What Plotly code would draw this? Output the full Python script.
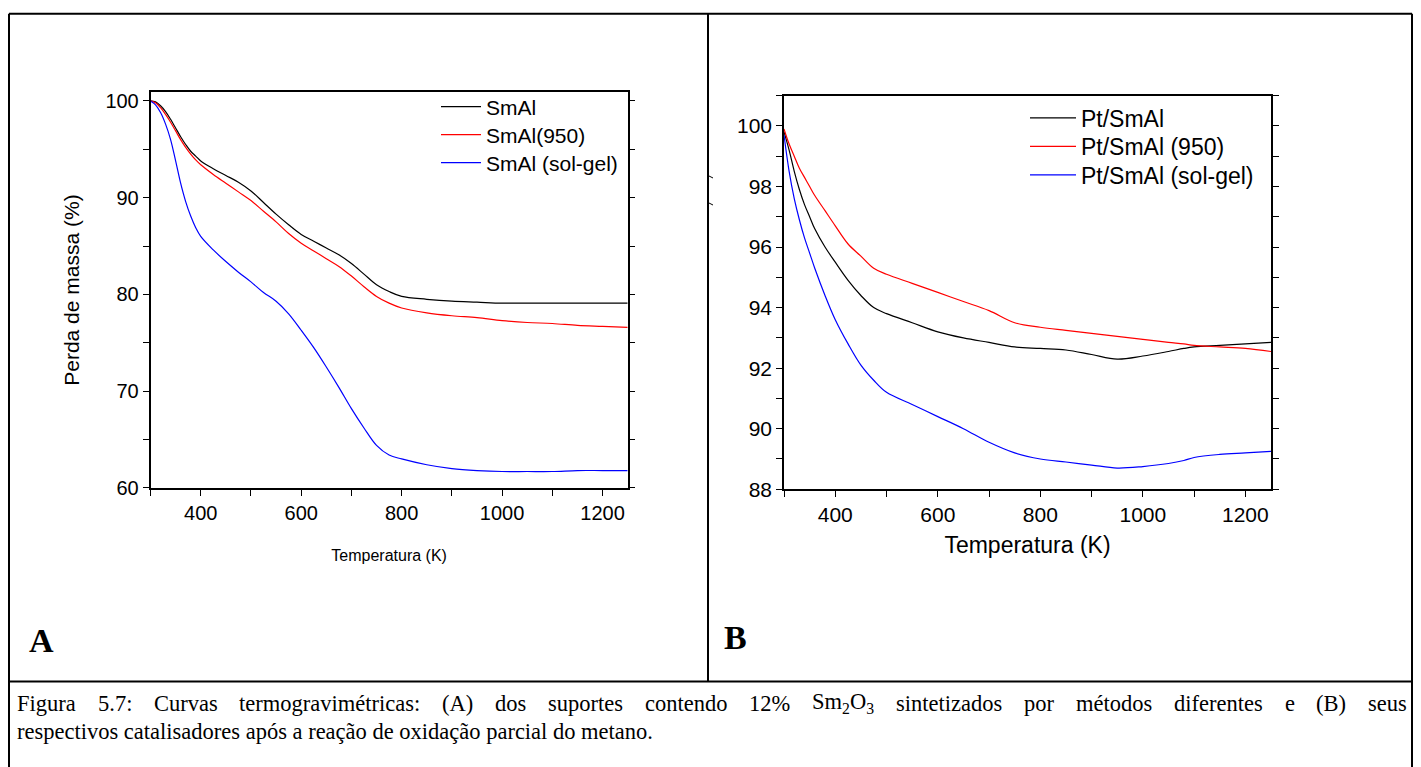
import re
import plotly.graph_objects as go

# the page body has an 8px margin; the figure starts 8px in from the top-left
OFF = 8
W, H = 1421 - 2 * OFF, 767 - OFF
# vertical correction measured from the previous renders (photo comes out slightly squeezed)
V0, VS = 2.3, 0.982

# ---- data ----
temp_a = [300, 310, 320, 330, 340, 350, 360, 370, 380, 390, 400, 425, 450, 475, 500, 525, 550,
          575, 600, 625, 650, 675, 700, 725, 750, 775, 800, 850, 900, 950, 1000, 1050, 1100,
          1150, 1200, 1250]
smal = [100.0, 99.9, 99.5, 98.9, 98.1, 97.2, 96.3, 95.5, 94.8, 94.3, 93.8, 93.0, 92.3, 91.6,
        90.7, 89.5, 88.3, 87.2, 86.2, 85.5, 84.8, 84.1, 83.2, 82.1, 81.0, 80.3, 79.8, 79.5,
        79.3, 79.2, 79.1, 79.1, 79.1, 79.1, 79.1, 79.1]
smal_950 = [100.0, 99.8, 99.3, 98.6, 97.8, 96.9, 96.0, 95.2, 94.5, 93.9, 93.4, 92.4, 91.5,
            90.6, 89.7, 88.6, 87.5, 86.3, 85.3, 84.5, 83.7, 82.9, 81.9, 80.8, 79.8, 79.1,
            78.6, 78.1, 77.8, 77.6, 77.3, 77.1, 77.0, 76.8, 76.7, 76.6]
smal_solgel = [100.0, 99.6, 98.8, 97.6, 96.0, 93.8, 91.5, 89.6, 88.1, 86.9, 86.0, 84.6, 83.4,
               82.3, 81.3, 80.2, 79.3, 78.0, 76.3, 74.5, 72.5, 70.4, 68.2, 66.2, 64.4, 63.4,
               63.0, 62.4, 62.0, 61.8, 61.7, 61.7, 61.7, 61.8, 61.8, 61.8]

temp_b = [300, 310, 320, 330, 340, 350, 360, 380, 400, 425, 450, 475, 500, 550, 600, 650, 700,
          750, 800, 850, 900, 950, 1000, 1050, 1080, 1100, 1150, 1200, 1250]
pt_smal = [99.8, 99.2, 98.5, 97.9, 97.4, 97.0, 96.6, 96.0, 95.5, 94.9, 94.4, 94.0, 93.8, 93.5,
           93.2, 93.0, 92.85, 92.7, 92.65, 92.6, 92.45, 92.3, 92.4, 92.55, 92.65, 92.7, 92.75,
           92.8, 92.85]
pt_smal_950 = [99.9, 99.4, 99.0, 98.6, 98.3, 98.0, 97.7, 97.2, 96.7, 96.1, 95.7, 95.3, 95.1,
               94.8, 94.5, 94.2, 93.9, 93.5, 93.35, 93.25, 93.15, 93.05, 92.95, 92.85, 92.8,
               92.75, 92.7, 92.65, 92.55]
pt_smal_solgel = [99.7, 98.5, 97.6, 96.9, 96.3, 95.8, 95.3, 94.4, 93.6, 92.8, 92.1, 91.6, 91.2,
                  90.8, 90.4, 90.0, 89.55, 89.2, 89.0, 88.9, 88.8, 88.7, 88.75, 88.85, 88.95,
                  89.05, 89.15, 89.2, 89.25]

names_a = ["SmAl", "SmAl(950)", "SmAl (sol-gel)"]
names_b = ["Pt/SmAl", "Pt/SmAl (950)", "Pt/SmAl (sol-gel)"]
colors = ["#000000", "#ff0000", "#0000ff"]

caption_1 = ("Figura 5.7: Curvas termogravimétricas: (A) dos suportes contendo 12% "
             "Sm<sub>2</sub>O<sub>3</sub> sintetizados por métodos diferentes e (B) seus")
caption_2 = "respectivos catalisadores após a reação de oxidação parcial do metano."

SERIF = "Liberation Serif, Times New Roman"
SANS = "Liberation Sans, Arial"


def px(x):
    return (x - OFF) / W


def py(y):
    return 1 - ((y - V0) / VS - OFF) / H


# Times advance widths (1/1000 em), used only to justify the first caption line
TIMES_W = dict(zip("abcdefghilmnoprstuvxzéáãçóACBFOS()%:. ",
                   [444, 500, 444, 500, 444, 333, 500, 500, 278, 278, 778, 500, 500, 500, 333,
                    389, 278, 500, 500, 500, 444, 444, 444, 444, 444, 500, 722, 667, 667, 556,
                    722, 556, 333, 333, 833, 278, 250, 250]))


def word_em(word):
    total = 0
    for part in re.split(r"(<sub>.*?</sub>)", word):
        scale = 0.7 if part.startswith("<sub>") else 1.0
        for ch in re.sub(r"</?sub>", "", part):
            total += TIMES_W.get(ch, 500) * scale
    return total / 1000


# one small legend box per entry so each row sits where the reference has it
rows_a = [107, 135, 163]
rows_b = [118, 146.5, 175]
legends = {}

fig = go.Figure()
for i, (name, vals, c) in enumerate(zip(names_a, [smal, smal_950, smal_solgel], colors)):
    lid = "legend" if i == 0 else f"legend{i + 1}"
    legends[lid] = dict(x=px(436), y=py(rows_a[i]), xanchor="left", yanchor="middle",
                        bgcolor="rgba(0,0,0,0)", font=dict(size=21), itemwidth=40)
    fig.add_trace(go.Scatter(x=temp_a, y=vals, name=name, mode="lines", line_shape="spline",
                             line=dict(color=c, width=1.2), xaxis="x", yaxis="y", legend=lid))
for i, (name, vals, c) in enumerate(zip(names_b, [pt_smal, pt_smal_950, pt_smal_solgel],
                                        colors)):
    lid = f"legend{i + 4}"
    legends[lid] = dict(x=px(1025), y=py(rows_b[i]), xanchor="left", yanchor="middle",
                        bgcolor="rgba(0,0,0,0)", font=dict(size=23), itemwidth=46)
    fig.add_trace(go.Scatter(x=temp_b, y=vals, name=name, mode="lines", line_shape="spline",
                             line=dict(color=c, width=1.2), xaxis="x2", yaxis="y2", legend=lid))

common = dict(showline=True, linecolor="black", linewidth=1.5, showgrid=False, zeroline=False,
              ticks="outside", ticklen=6, tickwidth=1.2, tickcolor="black")
minor_x = dict(dtick=100, ticks="outside", ticklen=6, tickwidth=1.2, tickcolor="black")
font_a = dict(family=SANS, size=20, color="black")
font_b = dict(family=SANS, size=21, color="black")

fig.update_layout(
    width=W, height=H, margin=dict(l=0, r=0, t=0, b=0),
    paper_bgcolor="white", plot_bgcolor="white", showlegend=True,
    font=dict(family=SANS, color="black"),
    xaxis=dict(domain=[px(150.5), px(627.7)], anchor="y", range=[300, 1250], dtick=200,
               tick0=0, mirror=True, minor=minor_x, tickfont=font_a,
               title=dict(text="Temperatura (K)", font=dict(size=16), standoff=27), **common),
    yaxis=dict(domain=[py(487.7), py(92.3)], anchor="x", range=[60, 100.9], dtick=10,
               mirror="ticks", tickfont=font_a,
               minor=dict(dtick=5, ticks="outside", ticklen=6, tickcolor="black"),
               title=dict(text="Perda de massa (%)", font=dict(size=21), standoff=20), **common),
    xaxis3=dict(overlaying="x", side="top", anchor="y", range=[300, 1250], dtick=100,
                ticks="inside", ticklen=5, tickcolor="black", showticklabels=False,
                showgrid=False, zeroline=False, showline=False),
    xaxis2=dict(domain=[px(784), px(1271)], anchor="y2", range=[300, 1250], dtick=200, tick0=0,
                mirror=True, minor=minor_x, tickfont=font_b,
                title=dict(text="Temperatura (K)", font=dict(size=23), standoff=12), **common),
    yaxis2=dict(domain=[py(489), py(95.7)], anchor="x2", range=[88, 101], dtick=2,
                mirror="ticks", tickfont=font_b,
                minor=dict(dtick=1, ticks="outside", ticklen=6, tickcolor="black"), **common),
    xaxis4=dict(overlaying="x2", side="top", anchor="y2", range=[300, 1250], dtick=100,
                ticks="inside", ticklen=5, tickcolor="black", showticklabels=False,
                showgrid=False, zeroline=False, showline=False),
    **legends,
)

# table borders around the two panels and the caption (bottom edge is off the page)
line = dict(color="black", width=2)
for x0, y0, x1, y1 in [(9, 14, 1412, 14), (9, 14, 9, 800), (1412, 14, 1412, 800),
                       (708, 14, 708, 681), (9, 681, 1412, 681)]:
    fig.add_shape(type="line", xref="paper", yref="paper", x0=px(x0), x1=px(x1),
                  y0=py(y0), y1=py(y1), line=line)
# small stray marks next to the divider
for yy in (176, 203):
    fig.add_shape(type="line", xref="paper", yref="paper", x0=px(709), x1=px(713),
                  y0=py(yy), y1=py(yy + 2), line=dict(color="black", width=1))

fig.add_annotation(text="<b>A</b>", x=px(27), y=py(640), xref="paper", yref="paper",
                   xanchor="left", yanchor="middle", showarrow=False,
                   font=dict(family=SERIF, size=34))
fig.add_annotation(text="<b>B</b>", x=px(722), y=py(637), xref="paper", yref="paper",
                   xanchor="left", yanchor="middle", showarrow=False,
                   font=dict(family=SERIF, size=34))

# caption: first line justified between the table edges, second line left-aligned
cap_size = 22.5
left, right = 16, 1406
words = caption_1.split(" ")
widths = [word_em(w) * cap_size for w in words]
gap = max((right - left - sum(widths)) / (len(words) - 1), 0.25 * cap_size)
x = left
for w, wd in zip(words, widths):
    fig.add_annotation(text=w, x=px(x), y=py(703), xref="paper", yref="paper",
                       xanchor="left", yanchor="middle", showarrow=False, borderpad=0,
                       font=dict(family=SERIF, size=cap_size))
    x += wd + gap
fig.add_annotation(text=caption_2, x=px(left), y=py(731), xref="paper", yref="paper",
                   xanchor="left", yanchor="middle", showarrow=False, borderpad=0,
                   font=dict(family=SERIF, size=cap_size))

fig.write_html("out.html")
